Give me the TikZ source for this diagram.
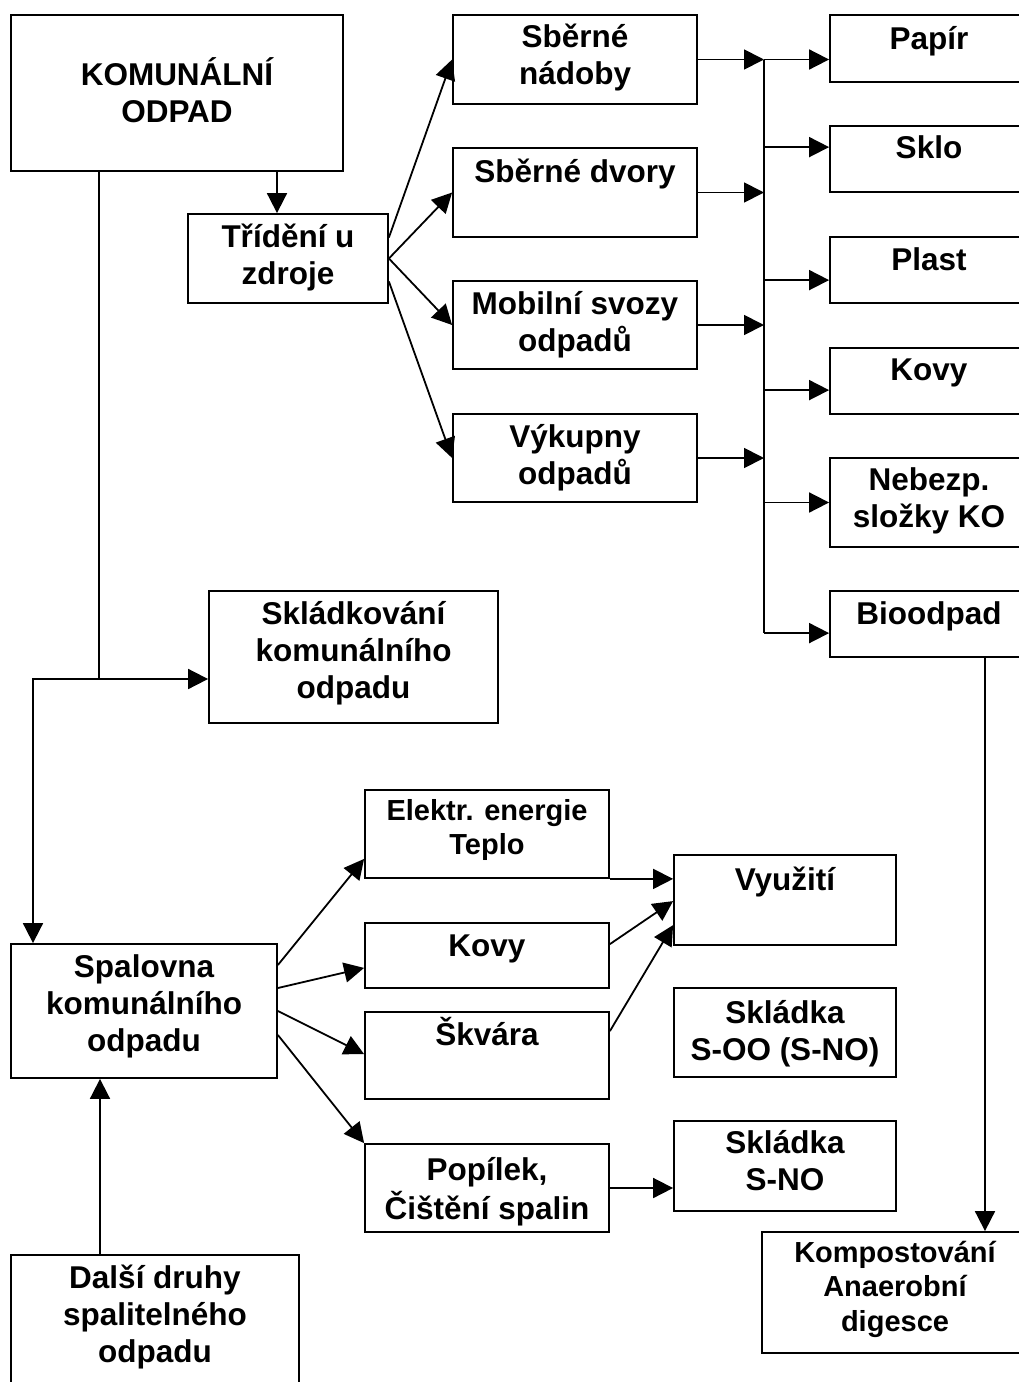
\documentclass[tikz,border=0pt]{standalone}
\usepackage{fontspec}
\setmainfont{Liberation Sans}
\usetikzlibrary{fit,arrows.meta}
\newcommand\tl[1]{\begin{tabular}[t]{@{}c@{}}#1\end{tabular}}
\tikzset{
  boxst/.style={draw, inner sep=0pt},
  txt/.style={anchor=base, inner sep=0pt, font=\fontsize{31.5}{37}\selectfont\bfseries},
  txts/.style={anchor=base, inner sep=0pt, font=\fontsize{29}{34.5}\selectfont\bfseries},
  arr/.style={-{Triangle[length=20pt,width=20pt]}}
}
\begin{document}
\begin{tikzpicture}[x=1pt,y=-1pt,line width=1.8pt]
\useasboundingbox (0,0) rectangle (1019,1382);
\clip (0,0) rectangle (1019,1382);
% boxes
\node[boxst, fit={(11,15) (343,171)}] (kom) {};
\node[boxst, fit={(188,214) (388,303)}] (trid) {};
\node[boxst, fit={(453,15) (697,104)}] (sn) {};
\node[boxst, fit={(453,148) (697,237)}] (sd) {};
\node[boxst, fit={(453,281) (697,369)}] (ms) {};
\node[boxst, fit={(453,414) (697,502)}] (vy) {};
\node[boxst, fit={(830,15) (1028,82)}] (papir) {};
\node[boxst, fit={(830,126) (1028,192)}] (sklo) {};
\node[boxst, fit={(830,237) (1028,303)}] (plast) {};
\node[boxst, fit={(830,348) (1028,414)}] (kovy) {};
\node[boxst, fit={(830,458) (1028,547)}] (neb) {};
\node[boxst, fit={(830,591) (1028,657)}] (bio) {};
\node[boxst, fit={(209,591) (498,723)}] (skl) {};
\node[boxst, fit={(365,790) (609,878)}] (el) {};
\node[boxst, fit={(365,923) (609,988)}] (kov2) {};
\node[boxst, fit={(365,1012) (609,1099)}] (skv) {};
\node[boxst, fit={(365,1144) (609,1232)}] (pop) {};
\node[boxst, fit={(674,855) (896,945)}] (vyu) {};
\node[boxst, fit={(674,988) (896,1077)}] (soo) {};
\node[boxst, fit={(674,1121) (896,1211)}] (sno) {};
\node[boxst, fit={(762,1232) (1028,1353)}] (komp) {};
\node[boxst, fit={(11,944) (277,1078)}] (spal) {};
\node[boxst, fit={(11,1255) (299,1400)}] (dal) {};
% texts
\node[txt] (kom-t) at (177,85) {\tl{KOMUNÁLNÍ\\ODPAD}};
\node[txt] (trid-t) at (288,247) {\tl{Třídění u\\zdroje}};
\node[txt] (sn-t) at (575,47) {\tl{Sběrné\\nádoby}};
\node[txt] (sd-t) at (575,182) {Sběrné dvory};
\node[txt] (ms-t) at (575,314) {\tl{Mobilní svozy\\odpadů}};
\node[txt] (vy-t) at (575,447) {\tl{Výkupny\\odpadů}};
\node[txt] (papir-t) at (929,49) {Papír};
\node[txt] (sklo-t) at (929,158) {Sklo};
\node[txt] (plast-t) at (929,270) {Plast};
\node[txt] (kovy-t) at (929,380) {Kovy};
\node[txt] (neb-t) at (929,490) {\tl{Nebezp.\\složky KO}};
\node[txt] (bio-t) at (929,624) {Bioodpad};
\node[txt] (skl-t) at (353.5,624) {\tl{Skládkování\\komunálního\\odpadu}};
\node[txts] (el-t) at (487,820) {\tl{Elektr. energie\\Teplo}};
\node[txt] (kov2-t) at (487,956) {Kovy};
\node[txt] (skv-t) at (487,1045) {Škvára};
\node[txt] (pop-t) at (487,1180) {\tl{Popílek,\\Čištění spalin}};
\node[txt] (vyu-t) at (785,890) {Využití};
\node[txt] (soo-t) at (785,1023) {\tl{Skládka\\S-OO (S-NO)}};
\node[txt] (sno-t) at (785,1153) {\tl{Skládka\\S-NO}};
\node[txts] (komp-t) at (895,1262) {\tl{Kompostování\\Anaerobní\\digesce}};
\node[txt] (spal-t) at (144,977) {\tl{Spalovna\\komunálního\\odpadu}};
\node[txt] (dal-t) at (155,1288) {\tl{Další druhy\\spalitelného\\odpadu}};
% helper coordinates
\coordinate (c1) at (277,0);
\coordinate (j1) at (99,679);
\coordinate (j2) at (33,679);
\coordinate (j3) at (100,0);
\coordinate (bus) at (764,0);
\coordinate (bx) at (985,0);
\path ([yshift=-22pt]sklo.north west) coordinate (sklo-in);
\path ([yshift=-44pt]plast.north west) coordinate (plast-in);
\path ([yshift=-43pt]kovy.north west) coordinate (kovy-in);
\path ([yshift=-43pt]bio.north west) coordinate (bio-in);
% connectors top
\draw[arr] (c1 |- kom.south) -- (c1 |- trid.north);
\draw[arr] ([yshift=21pt]trid.east) -- (sn.west);
\draw[arr] (trid.east) -- (sd.west);
\draw[arr] (trid.east) -- (ms.west);
\draw[arr] ([yshift=-23pt]trid.east) -- (vy.west);
\draw[arr] (sn.east) -- (sn.east -| bus);
\draw[arr] (sd.east) -- (sd.east -| bus);
\draw[arr] (ms.east) -- (ms.east -| bus);
\draw[arr] (vy.east) -- (vy.east -| bus);
\draw (sn.east -| bus) -- (bio-in -| bus);
\draw[arr] (sn.east -| bus) -- (sn.east -| papir.west);
\draw[arr] (sklo-in -| bus) -- (sklo-in);
\draw[arr] (plast-in -| bus) -- (plast-in);
\draw[arr] (kovy-in -| bus) -- (kovy-in);
\draw[arr] (neb.west -| bus) -- (neb.west);
\draw[arr] (bio-in -| bus) -- (bio-in);
\draw[arr] (bx |- bio.south) -- (bx |- komp.north);
% left trunk
\draw (j1 |- kom.south) -- (j1);
\draw[arr] (j1) -- (j1 -| skl.west);
\draw[arr] (j1) -- (j2) -- (j2 |- spal.north);
\draw[arr] (j3 |- dal.north) -- (j3 |- spal.south);
% incinerator outputs
\draw[arr] ([yshift=46pt]spal.east) -- ([yshift=20pt]el.south west);
\draw[arr] ([yshift=23pt]spal.east) -- ([yshift=21pt]kov2.south west);
\draw[arr] (spal.east) -- ([yshift=-43pt]skv.north west);
\draw[arr] ([yshift=-24pt]spal.east) -- (pop.north west);
\draw[arr] (el.south east) -- (el.south east -| vyu.west);
\draw[arr] ([yshift=-22pt]kov2.north east) -- ([yshift=-47pt]vyu.north west);
\draw[arr] ([yshift=-20pt]skv.north east) -- ([yshift=-71pt]vyu.north west);
\draw[arr] (pop.east) -- (pop.east -| sno.west);
\end{tikzpicture}
\end{document}
